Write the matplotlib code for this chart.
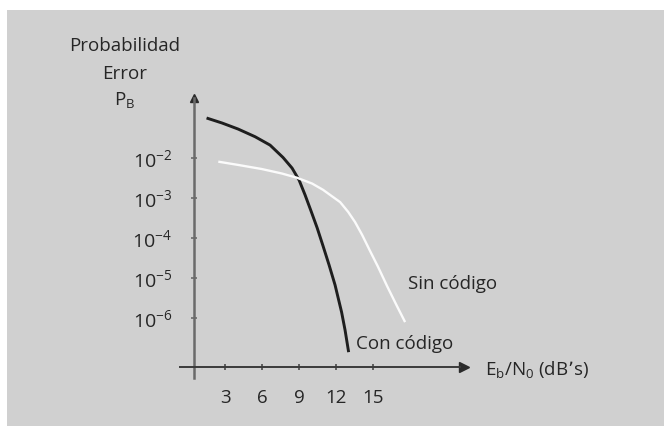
import numpy as np
import matplotlib
matplotlib.use('Agg')
import matplotlib.pyplot as plt

plt.rcParams['font.family'] = ['Open Sans', 'DejaVu Sans']

# Curvas (Eb/N0 en dB, probabilidad de error)
con_x = [1.5, 2.75, 4.05, 5.43, 6.64, 7.69, 8.42, 8.99, 9.47, 9.96, 10.45, 10.93,
         11.42, 11.9, 12.43, 12.71, 13.0]
con_y = [1.0e-1, 7.5e-2, 5.3e-2, 3.4e-2, 2.1e-2, 1.03e-2, 5.6e-3, 2.8e-3, 1.2e-3, 4.7e-4,
         1.8e-4, 6.3e-5, 2.1e-5, 6.7e-6, 1.4e-6, 5.0e-7, 1.4e-7]
sin_x = [2.45, 4.07, 5.97, 7.59, 8.83, 10.04, 10.93, 11.66, 12.31, 12.96, 13.52, 14.09,
         14.74, 15.38, 16.11, 16.84, 17.57]
sin_y = [8.1e-3, 6.7e-3, 5.3e-3, 4.1e-3, 3.2e-3, 2.3e-3, 1.6e-3, 1.1e-3, 7.9e-4, 4.5e-4,
         2.5e-4, 1.2e-4, 4.7e-5, 1.9e-5, 6.3e-6, 2.2e-6, 7.9e-7]

x_ticks = [3, 6, 9, 12, 15]
y_ticks = [1e-2, 1e-3, 1e-4, 1e-5, 1e-6]
y_labels = [r'$\mathregular{10^{-2}}$', r'$\mathregular{10^{-3}}$', r'$\mathregular{10^{-4}}$',
            r'$\mathregular{10^{-5}}$', r'$\mathregular{10^{-6}}$']

W, H = 664, 426
fig = plt.figure(figsize=(W / 100, H / 100), dpi=100)
fig.patch.set_facecolor('white')
# fondo gris
bg = fig.add_axes([7 / W, 0, 1 - 7 / W, 1 - 10 / H], zorder=-10)
bg.set_facecolor('#d0d0d0')
bg.set_xticks([])
bg.set_yticks([])
for s in bg.spines.values():
    s.set_visible(False)

# ejes en pixeles: x 180..466, y 98..378
ax = fig.add_axes([180 / W, 1 - 378 / H, (466 - 180) / W, (378 - 98) / H], zorder=1)
ax.set_facecolor('none')
ax.set_yscale('log')
ax.set_xlim(-0.65, 22.5)
ax.set_ylim(10 ** -7.5, 10 ** -0.5)

ax.plot(con_x, con_y, color='#1e1e1e', lw=2.1, solid_capstyle='butt', solid_joinstyle='round')
ax.plot(sin_x, sin_y, color='#fbfbfb', lw=1.7, solid_capstyle='butt', solid_joinstyle='round')

x_axis_y = 10 ** -7.225
for s in ['top', 'right']:
    ax.spines[s].set_visible(False)
ax.spines['left'].set_position(('data', 0.5))
ax.spines['bottom'].set_position(('data', x_axis_y))
ax.spines['left'].set_color('#6a6a6a')
ax.spines['left'].set_linewidth(1.8)
ax.spines['bottom'].set_color('#3a3a3a')
ax.spines['bottom'].set_linewidth(1.4)
ax.spines['bottom'].set_bounds(-0.65, 22.0)

# puntas de flecha
ax.plot(22.3, x_axis_y, '>', color='#2a2a2a', ms=7, clip_on=False)
ax.plot(0.5, 1, '^', color='#2a2a2a', ms=6, transform=ax.get_xaxis_transform(), clip_on=False)

ax.set_xticks(x_ticks)
ax.set_xticklabels([str(v) for v in x_ticks])
ax.set_yticks(y_ticks)
ax.set_yticklabels(y_labels)
ax.minorticks_off()
ax.tick_params(axis='x', direction='inout', length=5, width=1.2, color='#4a4a4a',
               pad=13, labelsize=13.5, labelcolor='#262626')
ax.tick_params(axis='y', direction='inout', length=4, width=1.2, color='#6a6a6a',
               pad=14, labelsize=14, labelcolor='#262626')

txt = dict(color='#262626', fontsize=13.5, transform=fig.transFigure)
fig.text(125 / W, 1 - 46 / H, 'Probabilidad', ha='center', va='center', **txt)
fig.text(125 / W, 1 - 74 / H, 'Error', ha='center', va='center', **txt)
fig.text(125 / W, 1 - 101 / H, r'P$_\mathregular{B}$', ha='center', va='center', **txt)

ax.text(17.8, 10 ** -5.15, 'Sin código', ha='left', va='center', color='#262626', fontsize=13.5)
ax.text(13.6, 10 ** -6.65, 'Con código', ha='left', va='center', color='#262626', fontsize=13.5)
fig.text(485 / W, 1 - 370 / H, r'E$_\mathregular{b}$/N$_\mathregular{0}$ (dB’s)',
         ha='left', va='center', color='#262626', fontsize=13.5)

fig.savefig('out.png', dpi=100)
